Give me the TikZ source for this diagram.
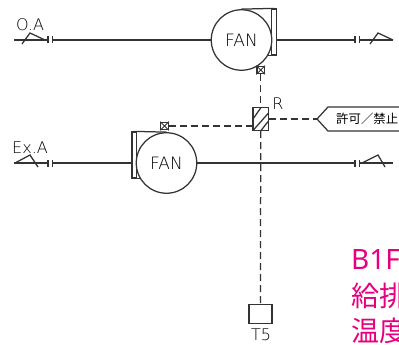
\documentclass[tikz,border=0pt]{standalone}
\usepackage{fontspec}
\setmainfont{Liberation Sans}
\newfontfamily\cadf{DejaVu Sans ExtraLight}
\newfontfamily\cjk{Noto Sans CJK JP}
\newfontfamily\pinkf{Noto Sans}
\usetikzlibrary{shapes.geometric}
\definecolor{ink}{HTML}{333333}
\definecolor{pink}{HTML}{E6007E}
\tikzset{
 x=1pt,y=-1pt,
 pipe/.style={draw=ink,line width=1.25pt},
 sig/.style={draw=ink,line width=1.25pt,dash pattern=on 7pt off 4pt},
 fan/.style={circle,draw=ink,line width=1.25pt,minimum size=60.5pt,inner sep=0pt,font=\cadf\fontsize{17}{17}\selectfont,text=black},
 label/.style={inner sep=0pt,text=black,font=\cadf\fontsize{16}{16}\selectfont},
 cad/.style={draw=ink,line width=1.25pt,inner sep=0pt},
 pinktext/.style={inner sep=0pt,anchor=west,text=pink,font=\cjk\fontsize{28}{28}\selectfont},
 sensor/.style={cad,fill=white,minimum size=7.5pt}
}
\begin{document}
\begin{tikzpicture}
\useasboundingbox (0,0) rectangle (399,345);
\clip (0,0) rectangle (399,345);
% fan frames
\node[fan] (fan1) at (241.5,40) {FAN};
\node[fan] (fan2) at (166.5,163) {FAN};
\node[cad,minimum width=4.5pt,minimum height=46pt] (fr1) at (274,32) {};
\node[cad,minimum width=4.5pt,minimum height=46pt] (fr2) at (134.2,155) {};
\draw[pipe] (fan1.north) -- (fr1.north);
\draw[pipe] (fr1.south west) -- ++(-4,0);
\draw[pipe] (fan2.north) -- (fr2.north);
\draw[pipe] (fr2.south east) -- ++(4,0);
% coordinates
\coordinate (a1) at (14,40); \coordinate (a2) at (48,40);
\coordinate (a3) at (52.5,40); \coordinate (a4) at (355,40);
\coordinate (a5) at (359.5,40); \coordinate (a6) at (393,40);
\coordinate (b1) at (14,163); \coordinate (b2) at (48,163);
\coordinate (b3) at (52.5,163); \coordinate (b4) at (355,163);
\coordinate (b5) at (359.5,163); \coordinate (b6) at (393,163);
% ducts
\draw[pipe] (a1) -- (a2);
\draw[pipe] (a3) -- (fan1.west);
\draw[pipe] (fr1.east |- a1) -- (a4);
\draw[pipe] (a5) -- (a6);
\draw[pipe] (b1) -- (b2);
\draw[pipe] (b3) -- (fr2.west |- b1);
\draw[pipe] (fan2.east) -- (b4);
\draw[pipe] (b5) -- (b6);
% flanges
\foreach \c in {a2,a3,a4,a5,b2,b3,b4,b5}{\draw[pipe] ([yshift=-3.5pt]\c) -- ([yshift=3.5pt]\c);}
% dampers
\draw[pipe] (22,44) -- (30,33) -- (45,40);
\draw[pipe] (370,44) -- (378,33) -- (393,40);
\draw[pipe] (15,163) -- (30,155) -- (38,167);
\draw[pipe] (362,163) -- (378,155) -- (385,167);
% controls
\node[sensor] (s1) at (260.7,70) {};
\node[sensor] (s2) at (164.5,126) {};
\draw[line width=0.8pt,draw=ink] (s1.south west)--(s1.north east) (s1.north west)--(s1.south east);
\draw[line width=0.8pt,draw=ink] (s2.south west)--(s2.north east) (s2.north west)--(s2.south east);
\node[cad,fill=white,minimum width=15.5pt,minimum height=23pt] (rel) at (260.7,119) {};
\node[cad,minimum width=23pt,minimum height=19pt] (t5) at (260.5,314) {};
\coordinate (tip) at (317,119);
\draw[cad] (399,107) -- (328,107) -- (tip) -- (328,131) -- (399,131);
\draw[sig] (s1.south) -- (rel.north);
\draw[sig] (rel.south) -- (t5.north);
\draw[sig] (s2.east) -- (rel.west |- s2.east);
\draw[sig] (rel.east |- tip) -- (tip);
% hatch
\draw[pipe] (253,119) -- (261,107.5);
\draw[pipe] (253,130.5) -- (268.5,113);
\draw[pipe] (261,130.5) -- (268.5,121);
% labels
\node[label] (oa) at (30,25) {O.A};
\node[label] (ex) at (30,148) {Ex.A};
\node[label] (r) at (278,104) {R};
\node[label] (t5l) at (261,335) {T5};
\node[inner sep=0pt,anchor=west,text=black,font=\cjk\fontsize{12.4}{12.4}\selectfont] (tag) at (336,119) {許可／禁止};
\node[pinktext] (p1) at (351,260) {\pinkf\fontsize{28}{28}\selectfont B1F};
\node[pinktext] (p2) at (351,295.5) {給排};
\node[pinktext] (p3) at (351,331) {温度};
\end{tikzpicture}
\end{document}
